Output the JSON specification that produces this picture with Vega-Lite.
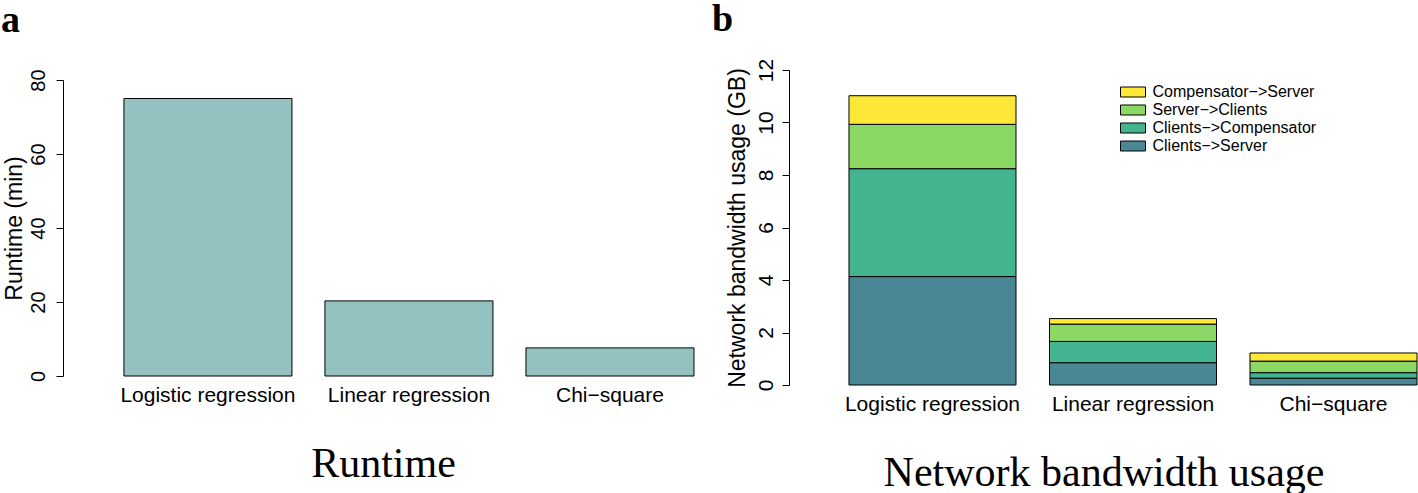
{
  "$schema": "https://vega.github.io/schema/vega-lite/v6.json",
  "padding": {"left": 1, "top": 1, "right": 0, "bottom": 0},
  "background": "white",
  "spacing": 9,
  "resolve": {"legend": {"color": "independent"}},
  "config": {
    "view": {"stroke": null},
    "axis": {"labelFont": "Liberation Sans", "titleFont": "Liberation Sans", "labelColor": "black", "titleColor": "black", "domainColor": "black", "tickColor": "black", "titleFontWeight": "normal", "grid": false}
  },
  "datasets": {
    "runtime": [
      {"method": "Logistic regression", "minutes": 75},
      {"method": "Linear regression", "minutes": 20.3},
      {"method": "Chi−square", "minutes": 7.6}
    ],
    "bandwidth": [
      {"method": "Logistic regression", "flow": "Clients−>Server", "k": 1, "gb": 4.13},
      {"method": "Logistic regression", "flow": "Clients−>Compensator", "k": 2, "gb": 4.11},
      {"method": "Logistic regression", "flow": "Server−>Clients", "k": 3, "gb": 1.69},
      {"method": "Logistic regression", "flow": "Compensator−>Server", "k": 4, "gb": 1.09},
      {"method": "Linear regression", "flow": "Clients−>Server", "k": 1, "gb": 0.85},
      {"method": "Linear regression", "flow": "Clients−>Compensator", "k": 2, "gb": 0.81},
      {"method": "Linear regression", "flow": "Server−>Clients", "k": 3, "gb": 0.66},
      {"method": "Linear regression", "flow": "Compensator−>Server", "k": 4, "gb": 0.21},
      {"method": "Chi−square", "flow": "Clients−>Server", "k": 1, "gb": 0.26},
      {"method": "Chi−square", "flow": "Clients−>Compensator", "k": 2, "gb": 0.21},
      {"method": "Chi−square", "flow": "Server−>Clients", "k": 3, "gb": 0.44},
      {"method": "Chi−square", "flow": "Compensator−>Server", "k": 4, "gb": 0.31}
    ]
  },
  "hconcat": [
    {
      "width": 640,
      "height": 306,
      "data": {"name": "runtime"},
      "title": {"text": "a", "anchor": "start", "frame": "group", "dx": -62, "font": "Liberation Serif", "fontSize": 38, "fontWeight": "bold", "offset": 29, "color": "black"},
      "mark": {"type": "bar", "fill": "#94c2c1", "stroke": "black", "strokeWidth": 1},
      "encoding": {
        "x": {
          "field": "method", "type": "nominal", "sort": null,
          "scale": {"paddingInner": 0.1642, "paddingOuter": 0.174, "align": 0.871},
          "axis": {"title": "Runtime", "titleFont": "Liberation Serif", "titleFontSize": 42, "labelAngle": 0, "labelFontSize": 21, "domain": false, "ticks": false, "labelPadding": 8, "titlePadding": 38}
        },
        "y": {
          "field": "minutes", "type": "quantitative",
          "scale": {"domain": [0, 80], "nice": false, "range": [306, 10]},
          "axis": {"title": "Runtime (min)", "values": [0, 20, 40, 60, 80], "labelAngle": -90, "labelAlign": "center", "labelBaseline": "alphabetic", "labelFontSize": 20, "labelPadding": 12, "tickSize": 7, "titleFontSize": 23, "titlePadding": 2}
        }
      }
    },
    {
      "width": 629,
      "height": 315,
      "data": {"name": "bandwidth"},
      "title": {"text": "b", "anchor": "start", "frame": "group", "dx": -77, "font": "Liberation Serif", "fontSize": 38, "fontWeight": "bold", "offset": 19, "color": "black"},
      "mark": {"type": "bar", "stroke": "black", "strokeWidth": 1},
      "encoding": {
        "x": {
          "field": "method", "type": "nominal", "sort": null,
          "scale": {"paddingInner": 0.167, "paddingOuter": 0.152, "align": 0.984},
          "axis": {"title": "Network bandwidth usage", "titleFont": "Liberation Serif", "titleFontSize": 42, "labelAngle": 0, "labelFontSize": 21, "domain": false, "ticks": false, "labelPadding": 8, "titlePadding": 38}
        },
        "y": {
          "field": "gb", "type": "quantitative", "stack": "zero",
          "scale": {"domain": [0, 12], "nice": false},
          "axis": {"title": "Network bandwidth usage (GB)", "values": [0, 2, 4, 6, 8, 10, 12], "labelAngle": -90, "labelAlign": "center", "labelBaseline": "alphabetic", "labelFontSize": 21, "labelPadding": 10, "tickSize": 7, "titleFontSize": 23, "titlePadding": 6}
        },
        "color": {
          "field": "flow", "type": "nominal",
          "scale": {"domain": ["Compensator−>Server", "Server−>Clients", "Clients−>Compensator", "Clients−>Server"], "range": ["#fde737", "#8cd864", "#42b48f", "#4a8795"]},
          "legend": {"title": null, "orient": "none", "legendX": 336, "legendY": 14, "padding": 0, "symbolType": "M-2.5,-1H2.5V1H-2.5Z", "symbolSize": 100, "symbolStrokeColor": "black", "symbolStrokeWidth": 1, "symbolOpacity": 1, "labelFont": "Liberation Sans", "labelFontSize": 16, "labelColor": "black", "labelOffset": 11.5, "labelLimit": 400, "rowPadding": 2}
        },
        "order": {"field": "k", "type": "quantitative"}
      }
    }
  ]
}
